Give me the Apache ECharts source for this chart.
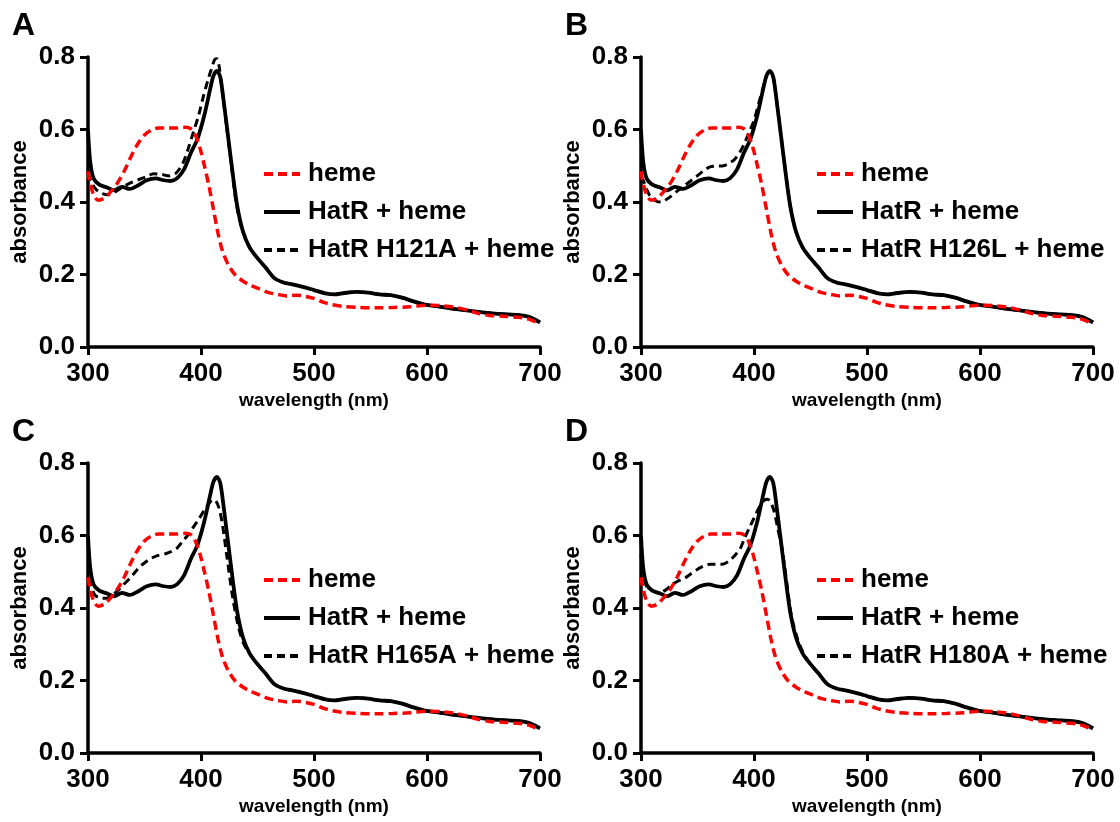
<!DOCTYPE html>
<html>
<head>
<meta charset="utf-8">
<script src="https://cdn.jsdelivr.net/npm/echarts@6/dist/echarts.min.js"></script>
<style>
  html, body { margin: 0; padding: 0; background: #fff; }
  #chart { width: 1120px; height: 822px; }
</style>
</head>
<body>
<div id="chart"></div>
<script>
// wavelength (nm), absorbance pairs
var hemeData = [[300,0.485],[302,0.45],[305,0.42],[309,0.405],[314,0.41],[320,0.428],[326,0.452],[332,0.485],[338,0.525],[344,0.56],[350,0.585],[356,0.598],[362,0.604],[370,0.604],[378,0.604],[386,0.606],[391,0.602],[395,0.585],[399,0.55],[403,0.5],[407,0.445],[411,0.38],[415,0.315],[419,0.265],[424,0.228],[430,0.2],[437,0.182],[444,0.17],[452,0.16],[460,0.15],[468,0.145],[476,0.141],[484,0.143],[492,0.14],[500,0.134],[508,0.124],[516,0.117],[526,0.112],[540,0.109],[555,0.108],[570,0.109],[585,0.111],[600,0.115],[612,0.114],[624,0.11],[634,0.103],[645,0.093],[655,0.087],[667,0.085],[680,0.082],[690,0.077],[700,0.064]];

var hatrData = [[300,0.60],[302,0.51],[305,0.465],[310,0.448],[317,0.44],[323,0.432],[330,0.442],[337,0.436],[345,0.447],[352,0.46],[360,0.465],[367,0.46],[373,0.458],[379,0.466],[385,0.49],[391,0.535],[397,0.575],[403,0.64],[408,0.71],[411,0.748],[414,0.762],[417,0.745],[420,0.68],[424,0.58],[428,0.48],[432,0.39],[437,0.32],[443,0.275],[450,0.245],[457,0.22],[465,0.19],[473,0.178],[482,0.172],[490,0.166],[500,0.157],[510,0.148],[518,0.145],[527,0.149],[538,0.152],[548,0.15],[558,0.145],[568,0.143],[578,0.136],[588,0.126],[598,0.117],[610,0.112],[622,0.106],[635,0.101],[648,0.096],[660,0.092],[672,0.09],[682,0.088],[690,0.083],[700,0.068]];

var h121aData = [[300,0.48],[303,0.455],[307,0.435],[312,0.424],[318,0.42],[324,0.428],[330,0.44],[337,0.452],[345,0.462],[352,0.47],[358,0.478],[365,0.476],[372,0.472],[378,0.48],[384,0.507],[389,0.55],[393,0.59],[398,0.64],[402,0.69],[406,0.735],[409,0.765],[412,0.792],[414,0.795],[416,0.775],[419,0.7],[423,0.6],[427,0.5],[431,0.4],[436,0.33],[442,0.28],[450,0.245],[457,0.22],[465,0.19],[473,0.178],[482,0.172],[490,0.166],[500,0.157],[510,0.148],[518,0.145],[527,0.149],[538,0.152],[548,0.15],[558,0.145],[568,0.143],[578,0.136],[588,0.126],[598,0.117],[610,0.112],[622,0.106],[635,0.101],[648,0.096],[660,0.092],[672,0.09],[682,0.088],[690,0.083],[700,0.068]];

var h126lData = [[300,0.47],[302,0.46],[305,0.435],[309,0.412],[314,0.402],[318,0.4],[322,0.406],[327,0.417],[332,0.43],[337,0.442],[343,0.456],[349,0.47],[355,0.485],[361,0.497],[367,0.499],[373,0.5],[378,0.507],[383,0.518],[388,0.54],[392,0.565],[396,0.595],[400,0.625],[404,0.67],[408,0.715],[411,0.748],[414,0.76],[417,0.745],[420,0.68],[424,0.58],[428,0.48],[432,0.39],[437,0.32],[443,0.275],[450,0.245],[457,0.22],[465,0.19],[473,0.178],[482,0.172],[490,0.166],[500,0.157],[510,0.148],[518,0.145],[527,0.149],[538,0.152],[548,0.15],[558,0.145],[568,0.143],[578,0.136],[588,0.126],[598,0.117],[610,0.112],[622,0.106],[635,0.101],[648,0.096],[660,0.092],[672,0.09],[682,0.088],[690,0.083],[700,0.068]];

var h165aData = [[300,0.48],[302,0.468],[306,0.436],[311,0.428],[316,0.427],[322,0.437],[327,0.45],[332,0.466],[337,0.482],[342,0.5],[346,0.514],[351,0.527],[356,0.537],[362,0.545],[368,0.549],[374,0.556],[379,0.566],[384,0.585],[388,0.6],[393,0.622],[398,0.645],[403,0.67],[407,0.688],[410,0.698],[413,0.696],[416,0.675],[419,0.63],[423,0.54],[428,0.43],[433,0.35],[438,0.3],[444,0.27],[450,0.245],[457,0.22],[465,0.19],[473,0.178],[482,0.172],[490,0.166],[500,0.157],[510,0.148],[518,0.145],[527,0.149],[538,0.152],[548,0.15],[558,0.145],[568,0.143],[578,0.136],[588,0.126],[598,0.117],[610,0.112],[622,0.106],[635,0.101],[648,0.096],[660,0.092],[672,0.09],[682,0.088],[690,0.083],[700,0.068]];

var h180aData = [[300,0.55],[302,0.49],[305,0.46],[310,0.448],[316,0.442],[322,0.45],[328,0.466],[334,0.476],[339,0.483],[344,0.494],[349,0.505],[355,0.515],[361,0.521],[367,0.521],[372,0.521],[378,0.53],[383,0.545],[388,0.565],[392,0.595],[396,0.622],[400,0.648],[405,0.68],[409,0.697],[412,0.7],[415,0.69],[418,0.665],[421,0.62],[425,0.56],[429,0.47],[433,0.38],[438,0.32],[443,0.28],[450,0.245],[457,0.22],[465,0.19],[473,0.178],[482,0.172],[490,0.166],[500,0.157],[510,0.148],[518,0.145],[527,0.149],[538,0.152],[548,0.15],[558,0.145],[568,0.143],[578,0.136],[588,0.126],[598,0.117],[610,0.112],[622,0.106],[635,0.101],[648,0.096],[660,0.092],[672,0.09],[682,0.088],[690,0.083],[700,0.068]];

var panelLetters = ['A', 'B', 'C', 'D'];
var mutantNames = ['HatR H121A + heme', 'HatR H126L + heme', 'HatR H165A + heme', 'HatR H180A + heme'];
var mutantData = [h121aData, h126lData, h165aData, h180aData];

var chart = echarts.init(document.getElementById('chart'));
var font = '"Liberation Sans", Arial, sans-serif';

// panel boxes: left, top of the plot area
var boxes = [[88, 57], [641, 57], [88, 463], [641, 463]];
var plotW = 452, plotH = 290;

var grid = [], xAxis = [], yAxis = [], series = [], legend = [], title = [];

for (var i = 0; i < 4; i++) {
    var bx = boxes[i][0], by = boxes[i][1];

    grid.push({ left: bx, top: by, width: plotW, height: plotH, containLabel: false });

    title.push({
        text: panelLetters[i],
        left: bx - 76,
        top: by - 47,
        padding: 0,
        textStyle: { fontFamily: font, fontSize: 32, fontWeight: 'bold', color: '#000' }
    });

    xAxis.push({
        gridIndex: i,
        type: 'value',
        min: 300,
        max: 700,
        interval: 100,
        name: 'wavelength (nm)',
        nameLocation: 'middle',
        nameGap: 44,
        nameTextStyle: { fontFamily: font, fontSize: 19, fontWeight: 'bold', color: '#000' },
        axisLine: { onZero: false, lineStyle: { color: '#000', width: 3.5 } },
        axisTick: { length: 8, lineStyle: { color: '#000', width: 3 } },
        axisLabel: { margin: 14, fontFamily: font, fontSize: 26, fontWeight: 'bold', color: '#000' },
        splitLine: { show: false }
    });

    yAxis.push({
        gridIndex: i,
        type: 'value',
        min: 0,
        max: 0.8,
        interval: 0.2,
        name: 'absorbance',
        nameLocation: 'middle',
        nameRotate: 90,
        nameGap: 57,
        nameTextStyle: { fontFamily: font, fontSize: 22, fontWeight: 'bold', color: '#000' },
        axisLine: { lineStyle: { color: '#000', width: 3.5 } },
        axisTick: { length: 8, lineStyle: { color: '#000', width: 3 } },
        axisLabel: {
            margin: 13, fontFamily: font, fontSize: 26, fontWeight: 'bold', color: '#000',
            formatter: function (v) { return v.toFixed(1); }
        },
        splitLine: { show: false }
    });

    series.push({
        name: 'HatR + heme', type: 'line', xAxisIndex: i, yAxisIndex: i,
        data: hatrData, symbol: 'none', smooth: 0.3, z: 2,
        lineStyle: { color: '#000', width: 3.8 }, itemStyle: { color: '#000' }
    });
    series.push({
        name: mutantNames[i], type: 'line', xAxisIndex: i, yAxisIndex: i,
        data: mutantData[i], symbol: 'none', smooth: 0.3, z: 3,
        lineStyle: { color: '#000', width: 3, type: [8, 5] }, itemStyle: { color: '#000' }
    });
    series.push({
        name: 'heme', type: 'line', xAxisIndex: i, yAxisIndex: i,
        data: hemeData, symbol: 'none', smooth: 0.3, z: 4,
        lineStyle: { color: '#ff0000', width: 3.5, type: [9, 5] }, itemStyle: { color: '#ff0000' }
    });

    legend.push({
        orient: 'vertical',
        left: bx + 174,
        top: by + 104,
        padding: 0,
        itemWidth: 36,
        itemHeight: 14,
        itemGap: 12,
        selectedMode: false,
        itemStyle: { opacity: 0 },
        lineStyle: { width: 4 },
        textStyle: { fontFamily: font, fontSize: 26, fontWeight: 'bold', color: '#000', lineHeight: 26, padding: [0, 0, 0, 3] },
        data: ['heme', 'HatR + heme', mutantNames[i]]
    });
}

chart.setOption({
    animation: false,
    backgroundColor: '#fff',
    title: title,
    grid: grid,
    xAxis: xAxis,
    yAxis: yAxis,
    legend: legend,
    series: series
});
</script>
</body>
</html>
